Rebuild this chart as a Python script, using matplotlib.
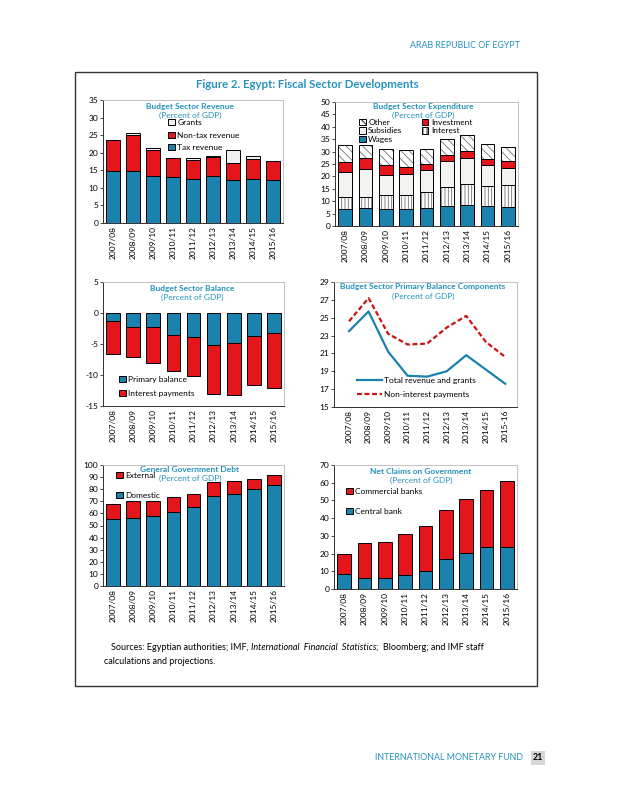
import numpy as np
import matplotlib
matplotlib.use('Agg')
import matplotlib.pyplot as plt
from matplotlib.patches import Rectangle, Patch
from matplotlib.lines import Line2D

plt.rcParams['font.family'] = ['Lato', 'DejaVu Sans']
plt.rcParams['hatch.linewidth'] = 0.6
plt.rcParams['axes.unicode_minus'] = False

years = ['2007/08', '2008/09', '2009/10', '2010/11', '2011/12',
         '2012/13', '2013/14', '2014/15', '2015/16']
years_pb = years[:-1] + ['2015-16']

# Budget sector revenue (percent of GDP)
tax = [14.7, 14.9, 13.4, 13.2, 12.5, 13.5, 12.3, 12.5, 12.3]
nontax = [8.8, 10.1, 7.4, 5.2, 5.5, 5.4, 4.9, 5.8, 5.3]
grants = [0.1, 0.7, 0.5, 0.1, 0.5, 0.1, 3.6, 0.9, 0.1]

# Budget sector expenditure
wages = [6.7, 7.1, 6.7, 6.7, 7.4, 7.9, 8.3, 8.0, 7.5]
interest = [5.1, 4.4, 5.6, 5.6, 6.3, 7.9, 8.5, 8.2, 8.9]
subsidies = [9.9, 11.6, 8.2, 8.7, 8.8, 10.3, 10.8, 8.2, 7.1]
investment = [4.0, 4.4, 3.9, 2.9, 2.6, 2.6, 2.6, 2.5, 2.6]
other = [7.1, 5.3, 6.8, 6.7, 6.1, 6.2, 6.3, 6.3, 5.9]

# Budget sector balance
primary = [-1.3, -2.3, -2.3, -3.5, -3.8, -5.1, -4.9, -3.7, -3.3]
int_pay = [-5.3, -4.8, -5.8, -5.9, -6.4, -7.9, -8.3, -7.9, -8.8]

# Primary balance components
rev_grants = [23.5, 25.7, 21.2, 18.5, 18.4, 19.0, 20.8, 19.2, 17.6]
nonint_pay = [24.6, 27.2, 23.2, 22.0, 22.1, 23.9, 25.2, 22.3, 20.6]

# General government debt
domestic = [55.0, 56.6, 58.0, 61.3, 65.5, 74.0, 76.2, 79.8, 83.4]
external = [12.4, 13.6, 12.2, 12.2, 10.5, 11.6, 10.5, 8.6, 8.3]

# Net claims on government
central = [8.5, 6.0, 6.0, 7.9, 10.2, 17.1, 20.5, 23.9, 23.9]
commercial = [11.1, 19.8, 20.6, 23.4, 25.2, 27.3, 30.3, 31.8, 37.3]

BLUE = '#1a82ad'
RED = '#e4161c'
TEAL = '#2592bd'
HATCH = '#707070'
FS = 6.0
W, H = 618, 800

fig = plt.figure(figsize=(W / 100, H / 100), dpi=100)


def px(x, y):
    return x / W, 1 - y / H


def make_ax(l, t, r, b):
    ax = fig.add_axes([l / W, 1 - b / H, (r - l) / W, (b - t) / H])
    for s in ['top', 'right']:
        ax.spines[s].set_color('#b8b8b8')
        ax.spines[s].set_linewidth(0.6)
    for s in ['left', 'bottom']:
        ax.spines[s].set_color('#303030')
        ax.spines[s].set_linewidth(0.7)
    ax.tick_params(axis='y', labelsize=FS, length=2, width=0.5, pad=1.5)
    ax.tick_params(axis='x', labelsize=FS, length=0, pad=2, rotation=90)
    return ax


def titles(x, y, title, sub='(Percent of GDP)'):
    fig.text(*px(x, y), title, color=TEAL, fontsize=FS, fontweight='bold',
             ha='center', va='center')
    fig.text(*px(x, y + 9.5), sub, color=TEAL, fontsize=FS,
             ha='center', va='center')


def legend(ax, handles, labels, x, y, **kw):
    opts = dict(loc='upper left', bbox_to_anchor=px(x, y),
                bbox_transform=fig.transFigure, frameon=False,
                fontsize=FS, borderaxespad=0, borderpad=0,
                handlelength=0.8, handleheight=0.8, handletextpad=0.3)
    opts.update(kw)
    ax.legend(handles, labels, **opts)


def hatched(ax, x, h, bottom, hatch):
    # grey hatch lines under a black outline
    ax.bar(x, h, bottom=bottom, width=bw, color='white', edgecolor=HATCH,
           hatch=hatch, linewidth=0)
    ax.bar(x, h, bottom=bottom, width=bw, fill=False, edgecolor='black',
           linewidth=0.7)


x = np.arange(len(years))
bw = 0.68
ek = dict(edgecolor='black', linewidth=0.7, width=bw)

# ---- Panel 1: revenue
ax1 = make_ax(103, 100, 283, 223)
ax1.bar(x, tax, color=BLUE, **ek)
ax1.bar(x, nontax, bottom=tax, color=RED, **ek)
ax1.bar(x, grants, bottom=np.add(tax, nontax), color='#eef0ee', **ek)
ax1.set_ylim(0, 35)
ax1.set_yticks(range(0, 36, 5))
ax1.set_xlim(-0.5, 8.5)
ax1.set_xticks(x, years)
titles(190, 106, 'Budget Sector Revenue')
hs = [Patch(facecolor='#eef0ee', edgecolor='black', linewidth=0.7),
      Patch(facecolor=RED, edgecolor='black', linewidth=0.7),
      Patch(facecolor=BLUE, edgecolor='black', linewidth=0.7)]
legend(ax1, hs, ['Grants', 'Non-tax revenue', 'Tax revenue'], 168, 119,
       labelspacing=0.65)

# ---- Panel 2: expenditure
ax2 = make_ax(335, 102, 518, 226)
b = np.zeros(len(years))
ax2.bar(x, wages, color=BLUE, **ek)
b += wages
hatched(ax2, x, interest, b, '|||||')
b += interest
ax2.bar(x, subsidies, bottom=b, color='#f3f3ef', **ek)
b += subsidies
ax2.bar(x, investment, bottom=b, color=RED, **ek)
b += investment
hatched(ax2, x, other, b, '\\\\\\\\')
ax2.set_ylim(0, 50)
ax2.set_yticks(range(0, 51, 5))
ax2.set_xlim(-0.5, 8.5)
ax2.set_xticks(x, years)
titles(423, 106, 'Budget Sector Expenditure')
hs = [Patch(facecolor='white', hatch='\\\\\\\\', edgecolor='black', linewidth=0.7),
      Patch(facecolor='#f3f3ef', edgecolor='black', linewidth=0.7),
      Patch(facecolor=BLUE, edgecolor='black', linewidth=0.7),
      Patch(facecolor=RED, edgecolor='black', linewidth=0.7),
      Patch(facecolor='white', hatch='||||', edgecolor='black', linewidth=0.7)]
legend(ax2, hs, ['Other', 'Subsidies', 'Wages', 'Investment', 'Interest'],
       359, 119, ncol=2, labelspacing=0.15, columnspacing=2.3)

# ---- Panel 3: balance
ax3 = make_ax(103, 282, 284, 406)
ax3.bar(x, primary, color=BLUE, **ek)
ax3.bar(x, int_pay, bottom=primary, color=RED, **ek)
ax3.set_ylim(-15, 5)
ax3.set_yticks(range(-15, 6, 5))
ax3.set_xlim(-0.5, 8.5)
ax3.set_xticks(x, years)
titles(192, 288, 'Budget Sector Balance')
hs = [Patch(facecolor=BLUE, edgecolor='black', linewidth=0.7),
      Patch(facecolor=RED, edgecolor='black', linewidth=0.7)]
legend(ax3, hs, ['Primary balance', 'Interest payments'], 119, 376,
       labelspacing=0.8)

# ---- Panel 4: primary balance components
ax4 = make_ax(334, 282, 517, 407)
l1, = ax4.plot(x, rev_grants, color=BLUE, linewidth=1.6)
l2, = ax4.plot(x, nonint_pay, color='#cc1111', linewidth=1.6,
               linestyle=(0, (2.2, 1.2)))
ax4.set_ylim(15, 29)
ax4.set_yticks(range(15, 30, 2))
ax4.set_xlim(-0.77, 8.6)
ax4.set_xticks(x, years_pb)
titles(423, 287, 'Budget Sector Primary Balance Components')
legend(ax4, [l1, l2], ['Total revenue and grants', 'Non-interest payments'],
       357, 377, handlelength=3.0, labelspacing=0.8)

# ---- Panel 5: debt
ax5 = make_ax(103, 465, 284, 586)
ax5.bar(x, domestic, color=BLUE, **ek)
ax5.bar(x, external, bottom=domestic, color=RED, **ek)
ax5.set_ylim(0, 100)
ax5.set_yticks(range(0, 101, 10))
ax5.set_xlim(-0.5, 8.5)
ax5.set_xticks(x, years)
fig.text(*px(190, 469), 'General Government Debt', color=TEAL, fontsize=FS,
         fontweight='bold', ha='center', va='center')
fig.text(*px(190, 478.5), '(Percent of GDP)', color=TEAL, fontsize=FS,
         ha='center', va='center')
hs = [Patch(facecolor=RED, edgecolor='black', linewidth=0.7),
      Patch(facecolor=BLUE, edgecolor='black', linewidth=0.7)]
legend(ax5, hs, ['External', 'Domestic'], 116, 472, labelspacing=1.55)

# ---- Panel 6: net claims
ax6 = make_ax(334, 465, 517, 589)
ax6.bar(x, central, color=BLUE, **ek)
ax6.bar(x, commercial, bottom=central, color=RED, **ek)
ax6.set_ylim(0, 70)
ax6.set_yticks(range(0, 71, 10))
ax6.set_xlim(-0.5, 8.5)
ax6.set_xticks(x, years)
titles(421, 471, 'Net Claims on Government')
legend(ax6, hs, ['Commercial banks', 'Central bank'], 346, 488,
       labelspacing=1.55)

# ---- page furniture
fig.add_artist(Rectangle(px(75, 686), 462 / W, 614 / H, transform=fig.transFigure,
                         fill=False, edgecolor='#333333', linewidth=1.0))
fig.text(*px(307, 84), 'Figure 2. Egypt: Fiscal Sector Developments', color=TEAL,
         fontsize=8.2, fontweight='bold', ha='center', va='center')
fig.text(*px(520, 45), 'ARAB REPUBLIC OF EGYPT', color=TEAL, fontsize=6.4,
         ha='right', va='center')
fig.text(*px(523, 758), 'INTERNATIONAL MONETARY FUND', color=TEAL, fontsize=6.4,
         ha='right', va='center')
fig.text(*px(538, 758), '21', color='black', fontsize=6.4, fontweight='bold',
         ha='center', va='center',
         bbox=dict(facecolor='#d6d6d6', edgecolor='none', pad=1.5))

fig.canvas.draw()
r = fig.canvas.get_renderer()
parts = [('Sources: Egyptian authorities; IMF, ', 'normal'),
         ('International  Financial  Statistics', 'italic'),
         (';  Bloomberg; and IMF staff', 'normal')]
xx = 111
for s, st in parts:
    t = fig.text(*px(xx, 648), s, fontsize=6.5, style=st, ha='left', va='center')
    xx = t.get_window_extent(r).x1
fig.text(*px(104, 662), 'calculations and projections.', fontsize=6.5,
         ha='left', va='center')

fig.savefig('out.png', dpi=100)
